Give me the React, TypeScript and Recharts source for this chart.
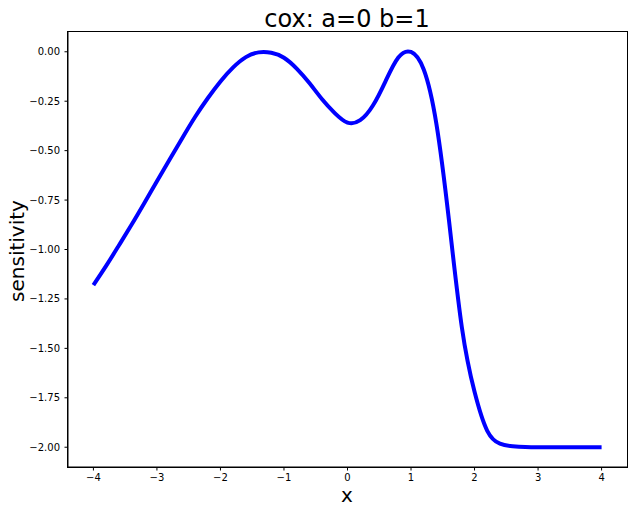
import { Line, LineChart, XAxis, YAxis } from "recharts";

const xs = [
	-4.0, -3.8, -3.6, -3.4, -3.2, -3.0, -2.8, -2.6, -2.4, -2.2, -2.0, -1.8, -1.6, -1.4,
	-1.2, -1.0, -0.8, -0.6, -0.4, -0.2, 0.0, 0.2, 0.4, 0.6, 0.8, 1.0, 1.2, 1.4, 1.6, 1.8,
	2.0, 2.2, 2.4, 2.6, 2.8, 3.0, 3.2, 3.4, 3.6, 3.8, 4.0,
];
const sensitivity = [
	-1.18, -1.083, -0.98, -0.875, -0.766, -0.655, -0.545, -0.436, -0.33, -0.235, -0.15,
	-0.079, -0.027, -0.003, -0.005, -0.03, -0.085, -0.158, -0.24, -0.31, -0.358, -0.346,
	-0.272, -0.148, -0.029, -0.001, -0.09, -0.366, -0.86, -1.393, -1.72, -1.917, -1.982,
	-1.995, -1.999, -2.0, -2.0, -2.0, -2.0, -2.0, -2.0,
];
const xTicks = [-4, -3, -2, -1, 0, 1, 2, 3, 4];
const yTicks = [0, -0.25, -0.5, -0.75, -1, -1.25, -1.5, -1.75, -2];

const data = xs.map((x, i) => ({ x, y: sensitivity[i] }));

const font = "'DejaVu Sans', sans-serif";
const minus = (s: string) => s.replace("-", "\u2212");

export default function App() {
	return (
		<div style={{ position: "absolute", left: 0, top: 0, width: 633, height: 514, background: "#fff", fontFamily: font }}>
			<LineChart width={633} height={514} data={data} margin={{ top: 32, right: 6, bottom: 0, left: 0 }}>
				<XAxis
					type="number"
					dataKey="x"
					domain={[-4.4, 4.4]}
					ticks={xTicks}
					allowDataOverflow
					height={47}
					stroke="#000"
					tickSize={3.5}
					tickMargin={3.5}
					tick={{ fontSize: 10, fill: "#000", fontFamily: font }}
					tickFormatter={(v: number) => minus(String(v))}
				/>
				<YAxis
					type="number"
					domain={[-2.1, 0.1]}
					ticks={yTicks}
					allowDataOverflow
					width={68}
					stroke="#000"
					tickSize={3.5}
					tickMargin={4.5}
					tick={{ fontSize: 10, fill: "#000", fontFamily: font }}
					tickFormatter={(v: number) => minus(v.toFixed(2))}
				/>
				<Line
					type="natural"
					dataKey="y"
					stroke="#0000ff"
					strokeWidth={4}
					dot={false}
					isAnimationActive={false}
				/>
			</LineChart>
			{/* top and right spines */}
			<div
				style={{
					position: "absolute",
					left: 67,
					top: 31,
					width: 561,
					height: 437,
					boxSizing: "border-box",
					border: "1px solid #000",
					pointerEvents: "none",
				}}
			/>
			<div style={{ position: "absolute", left: 347, top: 7, transform: "translateX(-50%)", fontSize: 24, lineHeight: "24px", whiteSpace: "nowrap" }}>
				cox: a=0 b=1
			</div>
			<div style={{ position: "absolute", left: 347, top: 485, transform: "translateX(-50%)", fontSize: 20, lineHeight: "20px" }}>
				x
			</div>
			<div
				style={{
					position: "absolute",
					left: 17,
					top: 251,
					transform: "translate(-50%, -50%) rotate(-90deg)",
					fontSize: 20,
					lineHeight: "20px",
					whiteSpace: "nowrap",
				}}
			>
				sensitivity
			</div>
		</div>
	);
}
